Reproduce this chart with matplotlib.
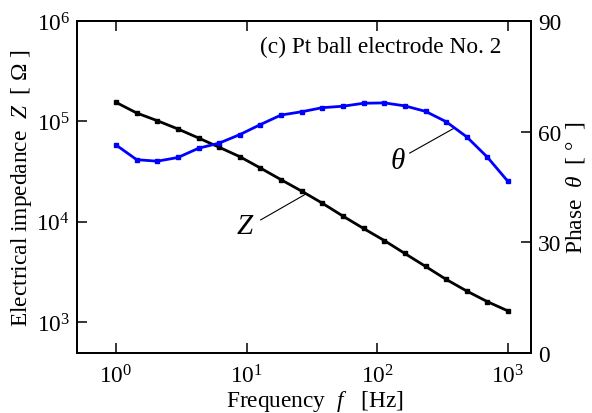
import matplotlib
matplotlib.use("Agg")
import matplotlib.pyplot as plt

plt.rcParams['font.family'] = ['Liberation Serif', 'DejaVu Serif']
plt.rcParams['mathtext.fontset'] = 'custom'
plt.rcParams['mathtext.rm'] = 'Liberation Serif'
plt.rcParams['mathtext.it'] = 'Liberation Serif:italic'

# Data
freq = [1.0, 1.44, 2.07, 2.98, 4.28, 6.16, 8.86, 12.7, 18.3, 26.4,
        37.9, 54.6, 78.5, 113, 162, 234, 336, 483, 695, 1000]
impedance = [154500, 121000, 101400, 83800, 68200, 55100, 44400, 34300, 26200, 20100,
             15270, 11340, 8540, 6480, 4820, 3575, 2655, 2033, 1592, 1286]
phase = [56.4, 52.4, 52.0, 53.0, 55.5, 56.9, 59.2, 61.9, 64.5, 65.4,
         66.5, 66.9, 67.7, 67.8, 67.0, 65.5, 62.7, 58.6, 53.1, 46.5]
xticks = [1, 10, 100, 1000]
xticklabels = ['$10^{0}$', '$10^{1}$', '$10^{2}$', '$10^{3}$']
yticks = [1e3, 1e4, 1e5, 1e6]
yticklabels = ['$10^{3}$', '$10^{4}$', '$10^{5}$', '$10^{6}$']
pticks = [0, 30, 60, 90]

fs = 16.8
fig = plt.figure(figsize=(5.92, 4.14), dpi=100)
ax = fig.add_axes([77/592, 60/414, 454/592, 332/414])
ax2 = ax.twinx()

ax.plot(freq, impedance, color='black', lw=2.0, marker='s', ms=3.4, zorder=3)
ax2.plot(freq, phase, color='#0000ff', lw=2.0, marker='s', ms=3.4, zorder=3)

ax.set_xscale('log')
ax.set_yscale('log')
ax.set_xlim(0.503, 1500)
ax.set_ylim(10**2.69, 1e6)
ax2.set_ylim(0, 90)

ax.set_xticks(xticks)
ax.set_xticklabels(xticklabels, fontsize=fs)
ax.set_yticks(yticks)
ax.set_yticklabels(yticklabels, fontsize=fs)
ax.minorticks_off()
ax2.set_yticks(pticks)
ax2.set_yticklabels([str(p) for p in pticks], fontsize=fs)

ax.tick_params(axis='both', which='major', direction='in', length=7, width=1.1,
               top=True, right=False, pad=5)
ax.tick_params(axis='x', pad=8)
ax2.tick_params(axis='y', direction='in', length=7, width=1.1, pad=5)
for a in (ax, ax2):
    for s in a.spines.values():
        s.set_linewidth(1.3)

ax.set_xlabel('Frequency  $f$   [Hz]', fontsize=fs, labelpad=0)
ax.xaxis.set_label_coords(0.524, -0.105)
ax.set_ylabel('Electrical impedance  $Z$  [ Ω ]', fontsize=fs, labelpad=2)
ax2.set_ylabel('Phase  $\\theta$  [ °  ]', fontsize=fs, labelpad=2)

ax.text(0.934, 0.922, '(c) Pt ball electrode No. 2', transform=ax.transAxes,
        ha='right', va='center', fontsize=fs)

# annotations
ax.plot([12.8, 27.9], [10400, 18600], color='black', lw=0.8, zorder=2)
ax.text(9.7, 9080, '$Z$', fontsize=21, ha='center', va='center')
ax2.plot([177, 385], [54.2, 60.9], color='black', lw=0.8, zorder=2)
ax2.text(144.5, 52.1, '$\\theta$', fontsize=21, ha='center', va='center')

fig.savefig('out.png', dpi=100)
